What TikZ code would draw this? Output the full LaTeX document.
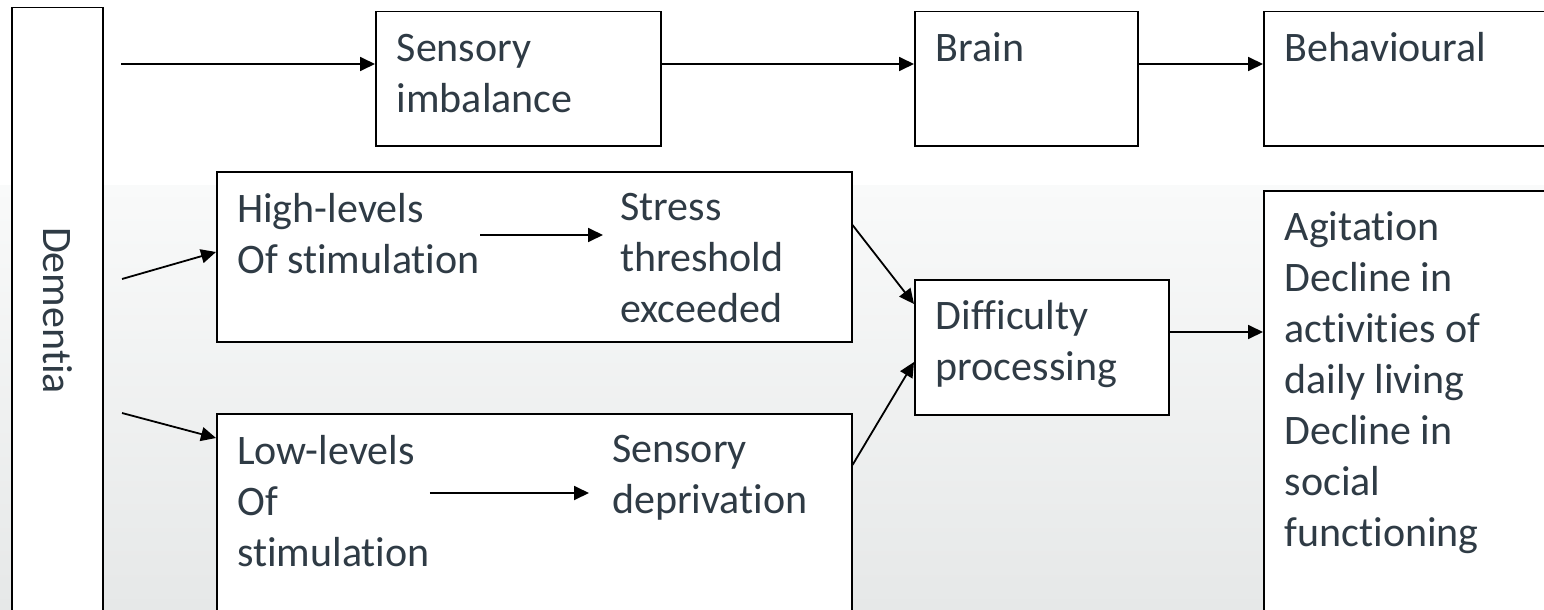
\documentclass[tikz,border=0pt]{standalone}
\usepackage{fontspec}
\setmainfont{Carlito}[Ligatures=NoCommon]
\usetikzlibrary{arrows.meta}
\definecolor{txt}{HTML}{2F3B45}
\definecolor{bgmid}{HTML}{F9FAFA}
\definecolor{bgbot}{HTML}{E6E8E8}

\begin{document}
\begin{tikzpicture}[x=1pt, y=-1pt,
  every node/.style = {font=\fontsize{42}{51}\selectfont, text=txt},
  box/.style = {draw=black, fill=white, line width=1.5pt, anchor=north west,
    align=flush left, inner xsep=21pt, inner ysep=0pt, text height=50pt},
  frame/.style = {draw=black, fill=white, line width=1.5pt, anchor=north west,
    inner sep=0pt},
  lbl/.style = {anchor=north west, align=left, inner sep=0pt},
  link/.style = {line width=1.8pt, -{Triangle[length=15pt,width=14pt]}}]
  \useasboundingbox (0,0) rectangle (1544,610);
  \fill[white] (0,0) rectangle (1544,185);
  \shade[top color=bgmid, bottom color=bgbot] (0,185) rectangle (1544,610);

  % left column
  \node[frame, anchor=center, rotate=-90, minimum width=606pt, minimum height=91pt]
    (dementia) at (57.5,310.5) {Dementia};
  \coordinate (d1) at (121,64);
  \coordinate (d2) at (122,279);
  \coordinate (d3) at (122,413);

  % top row
  \node[box, text width=243pt, text depth=84pt] (imbalance) at (375,11) {Sensory\\imbalance};
  \node[box, text width=181pt, text depth=84pt] (brain) at (914,11) {Brain};
  \node[box, text width=270pt, text depth=84pt] (behav) at (1263,11) {Behavioural};

  % stimulation boxes
  \node[frame, minimum width=635pt, minimum height=170pt] (high) at (216,171) {};
  \node[lbl] (highlvl) at (237,193) {High-levels\\Of stimulation};
  \node[lbl] (stress) at (620,193) {Stress\\threshold\\exceeded};
  \node[frame, minimum width=635pt, minimum height=205pt] (low) at (216,413) {};
  \node[lbl] (lowlvl) at (237,435) {Low-levels\\Of\\stimulation};
  \node[lbl] (depriv) at (612,435) {Sensory\\deprivation};

  % right side
  \node[box, text width=212pt, text depth=85pt] (difficulty) at (914,279) {Difficulty\\processing};
  \node[box, text width=270pt, text depth=380pt] (outcome) at (1263,190)
    {Agitation\\Decline in\\activities of\\daily living\\Decline in\\social\\functioning};

  \draw[link] (d1) -- (imbalance.west |- d1);
  \draw[link] (imbalance.east |- d1) -- (brain.west |- d1);
  \draw[link] (brain.east |- d1) -- (behav.west |- d1);
  \draw[link] (d2) -- ([yshift=-81pt]high.north west);
  \draw[link] (d3) -- ([yshift=-25pt]low.north west);
  \draw[link] (highlvl.east |- 0,235) -- ([xshift=-17pt]stress.west |- 0,235);
  \draw[link] (lowlvl.east |- 0,493) -- ([xshift=-23pt]depriv.west |- 0,493);
  \draw[link] ([yshift=-54pt]high.north east) -- ([yshift=-25pt]difficulty.north west);
  \draw[link] ([yshift=-52pt]low.north east) -- ([yshift=-83pt]difficulty.north west);
  \draw[link] (difficulty.east |- 0,332) -- (outcome.west |- 0,332);
\end{tikzpicture}
\end{document}
